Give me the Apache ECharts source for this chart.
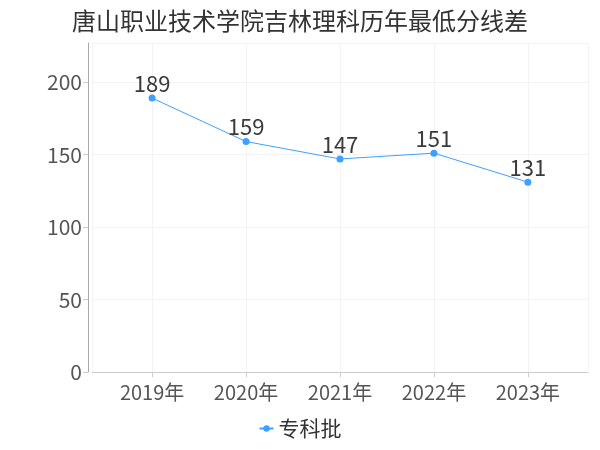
<!DOCTYPE html>
<html>
<head>
<meta charset="utf-8">
<script src="https://cdn.jsdelivr.net/npm/echarts@6/dist/echarts.min.js"></script>
<style>
  html, body { margin: 0; padding: 0; background: #fff; }
  #chart { width: 600px; height: 450px; }
</style>
</head>
<body>
<div id="chart"></div>
<script>
// 數據
const chartTitle = '唐山职业技术学院吉林理科历年最低分线差'
const seriesName = '专科批'
const years = ['2019年', '2020年', '2021年', '2022年', '2023年']
const scores = [189, 159, 147, 151, 131]
const yMax = 227

const font = 'Noto Sans CJK SC, sans-serif'

const chart = echarts.init(document.getElementById('chart'))

chart.setOption({
  animation: false,
  textStyle: { fontFamily: font },
  title: {
    text: chartTitle,
    left: 'center',
    top: 4,
    textStyle: { fontSize: 24, fontWeight: 'normal', color: '#333', fontFamily: font },
  },
  legend: {
    data: [seriesName],
    bottom: 6,
    left: 'center',
    itemWidth: 14,
    itemHeight: 8,
    itemGap: 6,
    textStyle: { fontSize: 21, color: '#333', fontFamily: font },
  },
  grid: { left: 92, right: 12, top: 43, bottom: 78, containLabel: false },
  xAxis: {
    type: 'value',
    min: -0.64,
    max: 4.64,
    splitNumber: 5,
    axisLine: { show: true, onZero: false, lineStyle: { color: '#ccc' } },
    axisTick: { show: true, lineStyle: { color: '#ccc' } },
    axisLabel: {
      fontSize: 20,
      color: '#555',
      margin: 10,
      showMinLabel: false,
      showMaxLabel: false,
      formatter: (v) => (Number.isInteger(v) && years[v] !== undefined ? years[v] : ''),
    },
    splitLine: { show: true, lineStyle: { color: '#f3f3f3' } },
  },
  yAxis: {
    type: 'value',
    min: 0,
    max: yMax,
    offset: 4,
    axisLine: { show: true, onZero: false, lineStyle: { color: '#aaa' } },
    axisTick: { show: true, lineStyle: { color: '#ccc' } },
    axisLabel: { fontSize: 21, color: '#555', margin: 6, showMaxLabel: false },
    splitLine: { show: true, lineStyle: { color: '#f3f3f3' } },
  },
  series: [
    {
      name: seriesName,
      type: 'line',
      data: scores.map((v, i) => [i, v]),
      symbol: 'circle',
      symbolSize: 7,
      lineStyle: { width: 1, color: '#3ea0ff' },
      itemStyle: { color: '#3ea0ff' },
      label: {
        show: true,
        position: 'top',
        distance: 0,
        fontSize: 22,
        color: '#3a3a3a',
        fontFamily: font,
      },
    },
  ],
})
</script>
</body>
</html>
